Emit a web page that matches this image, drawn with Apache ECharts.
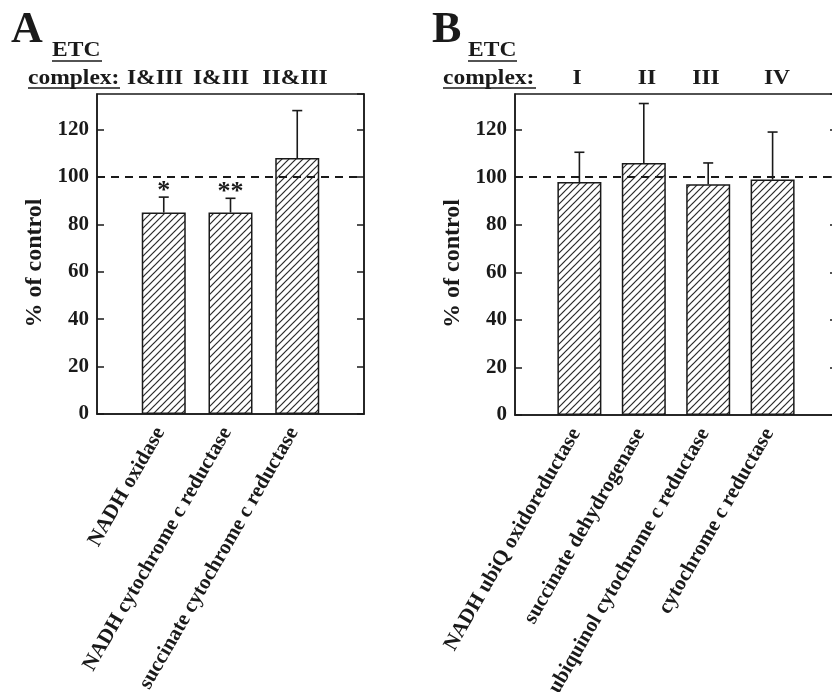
<!DOCTYPE html>
<html>
<head>
<meta charset="utf-8">
<script src="https://cdn.jsdelivr.net/npm/echarts@6/dist/echarts.min.js"></script>
<style>
html,body{margin:0;padding:0;background:#fff;}
#chart{width:832px;height:692px;}
</style>
</head>
<body>
<div id="chart"></div>
<script>
// ---- data ----
const catsA = ['NADH oxidase', 'NADH cytochrome c reductase', 'succinate cytochrome c reductase'];
const complexA = ['I&III', 'I&III', 'II&III'];
const valuesA = [85, 85, 108];
const errA = [6.5, 6, 20];
const sigA = ['*', '**', ''];

const catsB = ['NADH ubiQ oxidoreductase', 'succinate dehydrogenase', 'ubiquinol cytochrome c reductase', 'cytochrome c reductase'];
const complexB = ['I', 'II', 'III', 'IV'];
const valuesB = [98, 106, 97, 99];
const errB = [12.5, 25, 9, 20];
const sigB = ['', '', '', ''];

const yMin = 0, yMax = 135, yInterval = 20;
const controlLevel = 100;

// ---- helpers ----
const FONT = '"Liberation Serif", "Times New Roman", serif';
const INK = '#1a1a1a';

function hatch() {
  const s = 7;
  const c = document.createElement('canvas');
  c.width = s; c.height = s;
  const g = c.getContext('2d');
  g.fillStyle = '#fff';
  g.fillRect(0, 0, s, s);
  g.strokeStyle = '#2a2a2a';
  g.lineWidth = 1.2;
  for (const o of [-s, 0, s]) {
    g.beginPath();
    g.moveTo(o - 1, s + 1);
    g.lineTo(o + s + 1, -1);
    g.stroke();
  }
  return c;
}
const pattern = { image: hatch(), repeat: 'repeat' };

function pad(arr) { return [null].concat(arr, [null]); }
function padCats(arr) { return [''].concat(arr, ['']); }

const errSig = {};
function errRender(params, api) {
  const x = api.value(0), v = api.value(1), e = api.value(2);
  const sig = errSig[params.seriesIndex][params.dataIndex];
  const base = api.coord([x, v]);
  const top = api.coord([x, v + e]);
  const ls = { stroke: INK, lineWidth: 1.6 };
  const children = [
    { type: 'line', shape: { x1: base[0], y1: base[1], x2: top[0], y2: top[1] }, style: ls },
    { type: 'line', shape: { x1: top[0] - 5, y1: top[1], x2: top[0] + 5, y2: top[1] }, style: ls }
  ];
  if (sig) {
    children.push({
      type: 'text', x: top[0], y: top[1] - 6,
      style: { text: sig, fill: INK, font: 'bold 26px ' + FONT, textAlign: 'center', textVerticalAlign: 'middle' }
    });
  }
  return { type: 'group', children };
}

function yAxisPair(gridIndex) {
  const common = {
    type: 'value', gridIndex, min: yMin, max: yMax, interval: yInterval,
    splitLine: { show: false },
    axisLine: { show: true, lineStyle: { color: INK, width: 1.5 } },
    axisTick: { show: true, inside: true, length: 7, lineStyle: { color: INK, width: 1.5 } }
  };
  return [
    Object.assign({}, common, {
      position: 'left',
      name: '% of control', nameLocation: 'middle', nameGap: 50, nameRotate: 90,
      nameTextStyle: { fontFamily: FONT, fontWeight: 'bold', fontSize: 24, color: INK, padding: [0, 18, 0, 0] },
      axisLabel: { show: true, showMaxLabel: false, margin: 8, fontFamily: FONT, fontWeight: 'bold', fontSize: 21, color: INK }
    }),
    Object.assign({}, common, { position: 'right', axisLabel: { show: false } })
  ];
}

function xAxis(gridIndex, cats) {
  return {
    type: 'category', gridIndex, data: padCats(cats), boundaryGap: false,
    axisLine: { show: true, lineStyle: { color: INK, width: 1.5 } },
    axisTick: { show: false },
    splitLine: { show: false },
    axisLabel: { interval: 0, rotate: 60, margin: 9, padding: [0, 7, 6, 0], fontFamily: FONT, fontWeight: 'bold', fontSize: 21, color: INK }
  };
}

function barSeries(xi, yi, vals) {
  return {
    type: 'bar', xAxisIndex: xi, yAxisIndex: yi, data: pad(vals), barWidth: 44,
    itemStyle: { color: pattern, borderColor: INK, borderWidth: 1.5 },
    silent: true,
    markLine: {
      silent: true, symbol: 'none', label: { show: false },
      lineStyle: { type: [8, 6], color: INK, width: 1.8 },
      data: [{ yAxis: controlLevel }]
    }
  };
}

function errSeries(xi, yi, vals, errs) {
  return {
    type: 'custom', xAxisIndex: xi, yAxisIndex: yi, z: 5,
    data: vals.map((v, i) => [i + 1, v, errs[i]]),
    encode: { x: 0, y: 1 }, clip: false, silent: true,
    renderItem: errRender
  };
}
errSig[2] = sigA;
errSig[3] = sigB;

// header text graphics
function txt(x, y, text, size, align, sx) {
  return {
    type: 'text', x, y, scaleX: sx || 1.12,
    style: { text, fill: INK, font: 'bold ' + size + 'px ' + FONT, textAlign: align || 'left', textVerticalAlign: 'middle' }
  };
}
function uline(x1, x2, y) {
  return { type: 'line', shape: { x1, y1: y, x2, y2: y }, style: { stroke: INK, lineWidth: 1.5 } };
}
const complexPosA = [155, 221, 295];
const complexPosB = [577, 647, 706, 777];

const graphics = [
  txt(11, 31, 'A', 44, 'left', 1.0),
  txt(52, 51, 'ETC', 21),
  uline(52, 102, 61),
  txt(28, 79, 'complex:', 21),
  uline(28, 120, 88),
  txt(432, 31, 'B', 44, 'left', 1.0),
  txt(468, 51, 'ETC', 21),
  uline(468, 517, 61),
  txt(443, 79, 'complex:', 21),
  uline(443, 536, 88)
];
complexA.forEach((t, i) => graphics.push(txt(complexPosA[i], 79, t, 21, 'center')));
complexB.forEach((t, i) => graphics.push(txt(complexPosB[i], 79, t, 21, 'center')));

const chart = echarts.init(document.getElementById('chart'), null, { renderer: 'canvas' });
chart.setOption({
  backgroundColor: '#fff',
  animation: false,
  grid: [
    { left: 97, top: 94, width: 267, height: 320, show: true, borderColor: INK, borderWidth: 1.5, backgroundColor: 'transparent', containLabel: false, outerBoundsMode: 'none' },
    { left: 515, top: 94, right: -5, height: 321, show: true, borderColor: INK, borderWidth: 1.5, backgroundColor: 'transparent', containLabel: false, outerBoundsMode: 'none' }
  ],
  xAxis: [xAxis(0, catsA), xAxis(1, catsB)],
  yAxis: yAxisPair(0).concat(yAxisPair(1)),
  series: [
    barSeries(0, 0, valuesA),
    barSeries(1, 2, valuesB),
    errSeries(0, 0, valuesA, errA),
    errSeries(1, 2, valuesB, errB)
  ],
  graphic: graphics
});
</script>
</body>
</html>
